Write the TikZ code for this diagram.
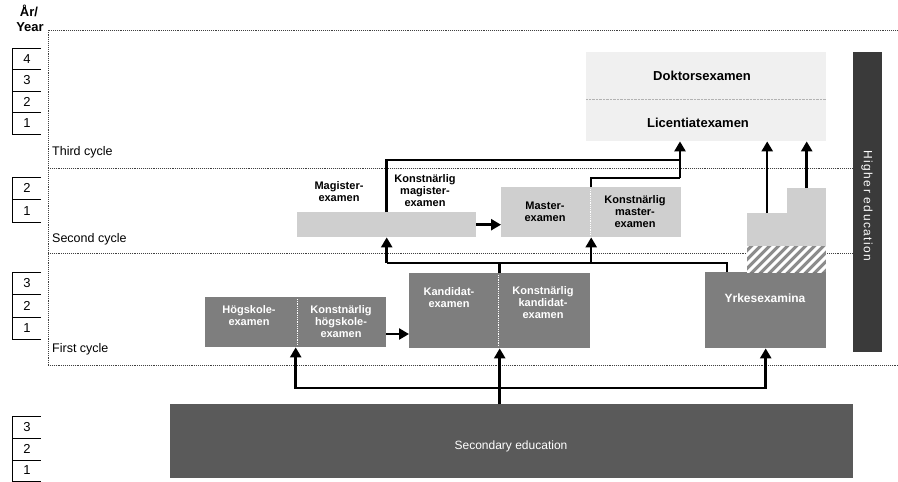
\documentclass[tikz,border=0pt]{standalone}
\usepackage{fontspec}
\setmainfont{Liberation Sans}
\usetikzlibrary{arrows.meta,calc}
\definecolor{secgray}{HTML}{5A5A5A}
\definecolor{hedark}{HTML}{3A3A3A}
\definecolor{midgray}{HTML}{7E7E7E}
\definecolor{litegray}{HTML}{CFCFCF}
\definecolor{palegray}{HTML}{F0F0F0}
\definecolor{hatchgray}{HTML}{8C8C8C}
\begin{document}
\begin{tikzpicture}[x=1pt,y=-1pt,
  cycline/.style={draw=black!75,line width=0.9pt,densely dotted},
  yearline/.style={draw=black,line width=1pt},
  rect/.style={draw=none,inner sep=0pt,anchor=north west},
  conn/.style={draw=black,line width=2.5pt},
  arr/.style={conn,-{Triangle[length=10pt,width=11pt]}},
  blab/.style={font=\fontsize{11}{12}\selectfont\bfseries,align=center,inner sep=0pt},
  wlab/.style={blab,text=white},
  cyclab/.style={font=\fontsize{12.5}{14}\selectfont,anchor=west,inner sep=0pt},
  yrnum/.style={font=\fontsize{13}{15}\selectfont,inner sep=0pt},
  divider/.style={draw=white,line width=0.8pt,densely dotted},
]
\useasboundingbox (0,0) rectangle (898,482);

% year header
\node[font=\fontsize{13}{15}\selectfont\bfseries,inner sep=0pt] (ar) at (29,11) {År/};
\node[font=\fontsize{13}{15}\selectfont\bfseries,inner sep=0pt] (year) at (30,27) {Year};

% year boxes
\draw[yearline] (12,48) -- (12,134);
\foreach \yy in {48,69.5,91,112.5,134} \draw[yearline] (12,\yy) -- (41,\yy);
\foreach \yy/\n in {58.75/4,80.25/3,101.75/2,123.25/1} \node[yrnum] (ya\n) at (27,\yy) {\n};
\draw[yearline] (12,177) -- (12,222);
\foreach \yy in {177,199.5,222} \draw[yearline] (12,\yy) -- (41,\yy);
\foreach \yy/\n in {188.25/2,210.75/1} \node[yrnum] (yb\n) at (27,\yy) {\n};
\draw[yearline] (12,272) -- (12,339.5);
\foreach \yy in {272,294.5,317,339.5} \draw[yearline] (12,\yy) -- (41,\yy);
\foreach \yy/\n in {283.25/3,305.75/2,328.25/1} \node[yrnum] (yc\n) at (27,\yy) {\n};
\draw[yearline] (12,416) -- (12,481);
\foreach \yy in {416,438,460,481} \draw[yearline] (12,\yy) -- (41,\yy);
\foreach \yy/\n in {427/3,449/2,470.5/1} \node[yrnum] (yd\n) at (27,\yy) {\n};

% cycle frame
\draw[cycline] (48,365) -- (48,30) -- (898,30);
\draw[cycline] (48,168) -- (852,168);
\draw[cycline] (48,253) -- (852,253);
\draw[cycline] (48,365) -- (898,365);
\node[cyclab] (c3) at (52,152) {Third cycle};
\node[cyclab] (c2) at (52,239) {Second cycle};
\node[cyclab] (c1) at (52,349) {First cycle};

% third cycle region
\node[rect,fill=palegray,minimum width=240pt,minimum height=89pt] (reg) at (586,52) {};
\coordinate (dv) at (0,99);
\draw[black!30,densely dotted] (reg.west |- dv) -- (reg.east |- dv);
\node[font=\fontsize{13}{15}\selectfont\bfseries,inner sep=0pt] (dok) at (702,76) {Doktorsexamen};
\node[font=\fontsize{13}{15}\selectfont\bfseries,inner sep=0pt] (lic) at (698,123) {Licentiatexamen};

% higher education bar
\node[rect,fill=hedark,minimum width=29pt,minimum height=300pt] (hed) at (853,52) {};
\node[rotate=-90,text=white,font=\fontsize{12}{14}\selectfont\addfontfeature{LetterSpace=12},inner sep=0pt] (hedt) at (867,206) {Higher education};

% second cycle
\node[rect,fill=litegray,minimum width=179pt,minimum height=25pt] (mag) at (297,212) {};
\node[blab] (magt) at (339,192) {Magister-\\examen};
\node[blab] (kmagt) at (425,191) {Konstnärlig\\magister-\\examen};
\node[rect,fill=litegray,minimum width=180pt,minimum height=50pt] (mas) at (501,187) {};
\draw[draw=white,line width=0.8pt,densely dotted] (590,189) -- (590,235);
\node[blab] (mast) at (545,212) {Master-\\examen};
\node[blab] (kmast) at (635,212) {Konstnärlig\\master-\\examen};

% first cycle
\node[rect,fill=midgray,minimum width=181pt,minimum height=50pt] (hog) at (205,297) {};
\draw[divider] (297,299) -- (297,345);
\node[wlab] (hogt) at (249,316) {Högskole-\\examen};
\node[wlab] (khogt) at (341,322) {Konstnärlig\\högskole-\\examen};
\node[rect,fill=midgray,minimum width=181pt,minimum height=75pt] (kand) at (409,273) {};
\draw[divider] (498,275) -- (498,346);
\node[wlab] (kandt) at (449,298) {Kandidat-\\examen};
\node[wlab] (kkandt) at (543,303) {Konstnärlig\\kandidat-\\examen};

% yrkesexamina
\node[rect,fill=midgray,minimum width=121pt,minimum height=76pt] (yrk) at (705,272) {};
\node[font=\fontsize{12}{14}\selectfont\bfseries,text=white,inner sep=0pt] (yrkt) at (765,298) {Yrkesexamina};
\node[rect,fill=litegray,minimum width=40pt,minimum height=59pt] (yl) at (747,213) {};
\node[rect,fill=litegray,minimum width=39pt,minimum height=84pt] (yrt) at (787,188) {};
\begin{scope}
  \clip (747,246) rectangle (826,272);
  \fill[hatchgray] (747,246) rectangle (826,272);
  \foreach \i in {0,...,12} \draw[white,line width=3pt] (717+\i*9,276) -- ++(34,-34);
\end{scope}

% secondary education
\node[rect,fill=secgray,minimum width=683pt,minimum height=74pt] (sec) at (170,404) {};
\node[text=white,font=\fontsize{12}{14}\selectfont,inner sep=0pt] (sect) at (511,446) {Secondary education};

% connectors: bottom
\coordinate (jb) at (0,388);
\draw[conn,line cap=rect] (hog.south |- jb) -- (yrk.south |- jb);
\draw[arr] (sec.north -| kand.south) -- (kand.south);
\draw[arr] (hog.south |- jb) -- (hog.south);
\draw[arr] (yrk.south |- jb) -- (yrk.south);
\draw[arr] (hog.east |- 0,334) -- (kand.west |- 0,334);

% connectors: middle
\coordinate (jm) at (0,263);
\coordinate (yrkin) at ($(yrk.north west)+(22,0)$);
\draw[conn,line join=miter] (mag.south |- jm) -- (yrkin |- jm) -- (yrkin);
\draw[conn] (kand.north) -- (kand.north |- jm);
\draw[arr] (mag.south |- jm) -- (mag.south);
\draw[arr] (mas.south |- jm) -- (mas.south);
\draw[arr] (mag.east) -- (mag.east -| mas.west);

% connectors: top
\coordinate (jt) at (0,160);
\coordinate (jt2) at (0,178);
\coordinate (licx) at (680,0);
\draw[conn,line join=miter] (mag.north) -- (mag.north |- jt) -- (licx |- jt);
\draw[conn,line join=miter] (mas.north) -- (mas.north |- jt2) -- (licx |- jt2);
\draw[arr] (licx |- jt2) -- (licx |- reg.south);
\draw[arr] (yl.north) -- (yl.north |- reg.south);
\draw[arr] (yrt.north) -- (yrt.north |- reg.south);
\end{tikzpicture}
\end{document}
